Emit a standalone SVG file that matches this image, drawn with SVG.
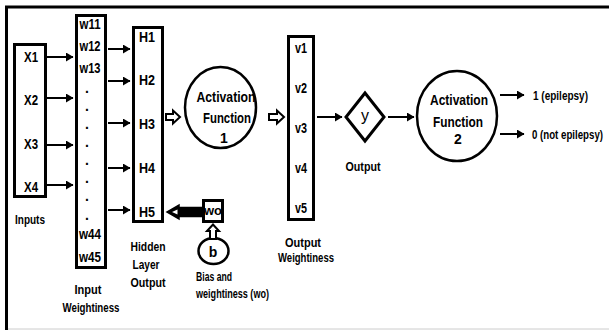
<svg xmlns="http://www.w3.org/2000/svg" width="609" height="330" viewBox="0 0 609 330">
<defs>
<marker id="ah" markerUnits="userSpaceOnUse" markerWidth="9" markerHeight="10" refX="7" refY="4.5" orient="auto">
<path d="M0,0 L7.5,4.5 L0,9 z" fill="#000"/>
</marker>
<style>
text{font-family:"Liberation Sans",Arial,sans-serif;font-weight:bold;font-size:14px;fill:#000}
.m{text-anchor:middle}
.s{font-size:12px}
.box{fill:#fff;stroke:#000;stroke-width:3}
.ln{stroke:#000;stroke-width:2;fill:none;marker-end:url(#ah)}
.blk{fill:#fff;stroke:#000;stroke-width:2;stroke-linejoin:miter}
</style>
</defs>
<rect width="609" height="330" fill="#fff"/>
<g id="frame">
<line x1="5" y1="7" x2="609" y2="7" stroke="#000" stroke-width="3"/>
<line x1="6.5" y1="6" x2="6.5" y2="330" stroke="#000" stroke-width="3"/>
<line x1="8" y1="329" x2="609" y2="329" stroke="#ccc" stroke-width="1"/>
</g>
<g id="inputs">
<rect class="box" x="14.5" y="44.5" width="31" height="152"/>
<text class="m" x="31" y="62" textLength="14" lengthAdjust="spacingAndGlyphs">X1</text>
<text class="m" x="31" y="105" textLength="14" lengthAdjust="spacingAndGlyphs">X2</text>
<text class="m" x="31" y="149" textLength="14" lengthAdjust="spacingAndGlyphs">X3</text>
<text class="m" x="31" y="192" textLength="14" lengthAdjust="spacingAndGlyphs">X4</text>
<text class="m s" x="30" y="224" textLength="30" lengthAdjust="spacingAndGlyphs" style="font-size:13px">Inputs</text>
</g>
<g id="input-weights">
<rect class="box" x="76.5" y="15.5" width="29" height="252"/>
<text class="m" x="90" y="29" textLength="21" lengthAdjust="spacingAndGlyphs">w11</text>
<text class="m" x="90" y="51" textLength="21" lengthAdjust="spacingAndGlyphs">w12</text>
<text class="m" x="90" y="73" textLength="21" lengthAdjust="spacingAndGlyphs">w13</text>
<text class="m" x="87" y="93">.</text>
<text class="m" x="87" y="111">.</text>
<text class="m" x="87" y="129">.</text>
<text class="m" x="87" y="147">.</text>
<text class="m" x="87" y="165">.</text>
<text class="m" x="87" y="183">.</text>
<text class="m" x="87" y="201">.</text>
<text class="m" x="87" y="220">.</text>
<text class="m" x="90" y="239" textLength="22" lengthAdjust="spacingAndGlyphs">w44</text>
<text class="m" x="90" y="262" textLength="22" lengthAdjust="spacingAndGlyphs">w45</text>
<text class="m" x="88" y="294" textLength="27" lengthAdjust="spacingAndGlyphs" style="font-size:13px">Input</text>
<text class="m" x="91" y="312" textLength="57" lengthAdjust="spacingAndGlyphs" style="font-size:13px">Weightiness</text>
</g>
<g id="hidden">
<rect class="box" x="133.5" y="27.5" width="29" height="194"/>
<text class="m" x="147" y="42" textLength="16" lengthAdjust="spacingAndGlyphs">H1</text>
<text class="m" x="147" y="85" textLength="16" lengthAdjust="spacingAndGlyphs">H2</text>
<text class="m" x="147" y="129" textLength="16" lengthAdjust="spacingAndGlyphs">H3</text>
<text class="m" x="147" y="173" textLength="16" lengthAdjust="spacingAndGlyphs">H4</text>
<text class="m" x="147" y="217" textLength="16" lengthAdjust="spacingAndGlyphs">H5</text>
<text class="m" x="148" y="251" textLength="35" lengthAdjust="spacingAndGlyphs" style="font-size:13px">Hidden</text>
<text class="m" x="146" y="269" textLength="27" lengthAdjust="spacingAndGlyphs" style="font-size:13px">Layer</text>
<text class="m" x="148" y="287" textLength="35" lengthAdjust="spacingAndGlyphs" style="font-size:13px">Output</text>
</g>
<g id="bias-weight">
<rect class="box" x="203.5" y="200.5" width="19" height="21"/>
<text class="m" x="213" y="215" style="font-size:13px">wo</text>
</g>
<g id="bias">
<ellipse cx="213.5" cy="251" rx="15" ry="13" fill="#fff" stroke="#000" stroke-width="2.5"/>
<text class="m" x="213" y="257">b</text>
<text class="s" x="196" y="281" textLength="36" lengthAdjust="spacingAndGlyphs">Bias and</text>
<text class="s" x="196" y="298" textLength="73" lengthAdjust="spacingAndGlyphs">weightiness (wo)</text>
</g>
<g id="activation1">
<ellipse cx="220.5" cy="107.5" rx="35.5" ry="40.5" fill="#fff" stroke="#000" stroke-width="2.5"/>
<text class="m" x="226" y="102" textLength="59" lengthAdjust="spacingAndGlyphs">Activation</text>
<text class="m" x="227" y="123" textLength="48" lengthAdjust="spacingAndGlyphs">Function</text>
<text class="m" x="224" y="143">1</text>
</g>
<g id="output-weights">
<rect class="box" x="288.5" y="36.5" width="25" height="183"/>
<text class="m" x="301" y="53" textLength="12" lengthAdjust="spacingAndGlyphs">v1</text>
<text class="m" x="301" y="93" textLength="12" lengthAdjust="spacingAndGlyphs">v2</text>
<text class="m" x="301" y="133" textLength="12" lengthAdjust="spacingAndGlyphs">v3</text>
<text class="m" x="301" y="173" textLength="12" lengthAdjust="spacingAndGlyphs">v4</text>
<text class="m" x="301" y="213" textLength="12" lengthAdjust="spacingAndGlyphs">v5</text>
<text class="m" x="303" y="247" textLength="36" lengthAdjust="spacingAndGlyphs" style="font-size:13px">Output</text>
<text class="m" x="306" y="262" textLength="56" lengthAdjust="spacingAndGlyphs" style="font-size:13px">Weightiness</text>
</g>
<g id="output">
<polygon points="365,93 384,117 365,141 346,117" fill="#fff" stroke="#000" stroke-width="3" stroke-linejoin="miter"/>
<text class="m" x="365" y="121" style="font-size:16px;font-weight:normal">y</text>
<text class="m" x="363" y="171" textLength="35" lengthAdjust="spacingAndGlyphs" style="font-size:13px">Output</text>
</g>
<g id="activation2">
<ellipse cx="457" cy="116" rx="40" ry="45" fill="#fff" stroke="#000" stroke-width="2.5"/>
<text class="m" x="459" y="105" textLength="58" lengthAdjust="spacingAndGlyphs">Activation</text>
<text class="m" x="458" y="127" textLength="50" lengthAdjust="spacingAndGlyphs">Function</text>
<text class="m" x="458" y="144">2</text>
</g>
<g id="results">
<text class="s" x="533" y="100" textLength="55" lengthAdjust="spacingAndGlyphs">1 (epilepsy)</text>
<text class="s" x="532" y="139" textLength="71" lengthAdjust="spacingAndGlyphs">0 (not epilepsy)</text>
</g>
<g id="connectors">
<line class="ln" x1="47" y1="57" x2="73" y2="57"/>
<line class="ln" x1="47" y1="98" x2="73" y2="98"/>
<line class="ln" x1="47" y1="145" x2="73" y2="145"/>
<line class="ln" x1="47" y1="185" x2="73" y2="185"/>
<line class="ln" x1="108" y1="49" x2="130" y2="49"/>
<line class="ln" x1="108" y1="81" x2="130" y2="81"/>
<line class="ln" x1="108" y1="123" x2="130" y2="123"/>
<line class="ln" x1="108" y1="168" x2="130" y2="168"/>
<line class="ln" x1="108" y1="210" x2="130" y2="210"/>
<path class="blk" d="M166,114 L173,114 L173,110.5 L180,117 L173,123.5 L173,120 L166,120 z"/>
<path class="blk" d="M269,114 L277,114 L277,110.5 L284,117 L277,123.5 L277,120 L269,120 z"/>
<line class="ln" x1="317" y1="117" x2="342" y2="117"/>
<line class="ln" x1="388" y1="117" x2="414" y2="117"/>
<line class="ln" x1="500" y1="95" x2="524" y2="95"/>
<line class="ln" x1="500" y1="134" x2="524" y2="134"/>
<path d="M202,207.5 L179,207.5 L179,205 L167,212 L179,219 L179,216.5 L202,216.5 z" fill="#000" stroke="#000" stroke-width="1.5" stroke-linejoin="miter"/>
<path d="M177.5,209.5 L172,212 L177.5,214.5 z" fill="#fff"/>
<path class="blk" d="M210,239 L210,231 L207,231 L213,224.5 L219,231 L216,231 L216,239 z"/>
</g>
</svg>
